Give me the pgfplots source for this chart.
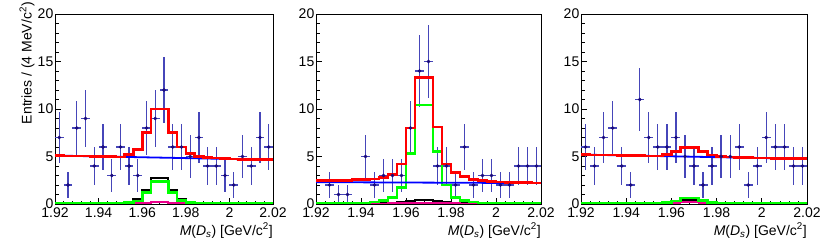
\documentclass[border=0pt]{standalone}
\usepackage{pgfplots}
\pgfplotsset{compat=1.18}
\usepackage{pgfplotstable}
\usepackage{fontspec}
\setmainfont{Liberation Sans}
\definecolor{navy}{RGB}{25,10,125}
\definecolor{errblue}{RGB}{70,70,185}
\newcommand{\lab}{\fontsize{14bp}{16bp}\selectfont}

% data: bin centre, entries, sqrt(entries)
\pgfplotstableread{
x y e
1.922 7 2.646
1.926 2 1.414
1.930 8 2.828
1.934 9 3.000
1.938 4 2.000
1.942 6 2.449
1.946 3 1.732
1.950 6 2.449
1.954 4 2.000
1.958 3 1.732
1.962 8 2.828
1.966 9 3.000
1.970 12 3.464
1.974 6 2.449
1.978 6 2.449
1.982 5 2.236
1.986 7 2.646
1.990 4 2.000
1.994 4 2.000
1.998 3 1.732
2.002 2 1.414
2.006 5 2.236
2.010 4 2.000
2.014 7 2.646
2.018 6 2.449
}\dataA
\pgfplotstableread{
x y e
1.926 2 1.414
1.930 1 1.000
1.934 1 1.000
1.942 5 2.236
1.946 2 1.414
1.950 3 1.732
1.954 3 1.732
1.958 3 1.732
1.962 8 2.828
1.966 14 3.742
1.970 15 3.873
1.974 4 2.000
1.978 4 2.000
1.982 2 1.414
1.986 6 2.449
1.990 2 1.414
1.994 3 1.732
1.998 3 1.732
2.002 2 1.414
2.006 2 1.414
2.010 4 2.000
2.014 4 2.000
2.018 4 2.000
}\dataB
\pgfplotstableread{
x y e
1.922 6 2.449
1.926 4 2.000
1.930 7 2.646
1.934 8 2.828
1.938 4 2.000
1.942 2 1.414
1.946 11 3.317
1.950 7 2.646
1.954 6 2.449
1.958 6 2.449
1.962 7 2.646
1.966 5 2.236
1.970 4 2.000
1.974 2 1.414
1.978 4 2.000
1.982 5 2.236
1.986 5 2.236
1.990 6 2.449
1.994 2 1.414
1.998 4 2.000
2.002 7 2.646
2.006 6 2.449
2.010 6 2.449
2.014 4 2.000
2.018 4 2.000
}\dataC

% histograms: left bin edge, red total, green, black, magenta
\pgfplotstableread{
x r g k m
1.920 5.09 0.1 0 0
1.924 5.07 0.1 0 0
1.928 5.055 0.1 0 0
1.932 5.04 0.1 0 0
1.936 5.02 0.1 0 0
1.940 5.00 0.1 0 0
1.944 4.98 0.1 0 0
1.948 4.965 0.1 0.05 0.1
1.952 5.2 0.15 0.15 0.12
1.956 5.75 0.3 0.5 0.12
1.960 7.5 1.23 1.5 0.15
1.964 10.0 2.35 2.75 0.18
1.968 10.0 2.35 2.75 0.18
1.972 7.5 1.23 1.5 0.15
1.976 6.0 0.35 0.55 0.12
1.980 5.3 0.15 0.2 0.12
1.984 5.0 0.12 0.1 0.1
1.988 4.88 0.1 0.05 0.08
1.992 4.84 0.1 0 0
1.996 4.80 0.1 0 0
2.000 4.74 0.1 0 0
2.004 4.71 0.1 0 0
2.008 4.695 0.1 0 0
2.012 4.677 0.1 0 0
2.016 4.66 0.1 0 0
2.020 4.66 0.1 0 0
}\histA
\pgfplotstableread{
x r g k m
1.920 2.5 0.1 0 0
1.924 2.5 0.1 0 0
1.928 2.5 0.1 0 0
1.932 2.5 0.1 0 0
1.936 2.55 0.1 0 0
1.940 2.6 0.12 0 0
1.944 2.65 0.2 0.05 0
1.948 2.8 0.35 0.1 0.05
1.952 3.1 0.7 0.15 0.08
1.956 4.2 1.75 0.2 0.1
1.960 8.0 5.3 0.3 0.12
1.964 13.3 10.4 0.4 0.12
1.968 13.3 10.4 0.4 0.12
1.972 8.1 5.5 0.3 0.12
1.976 4.2 2.0 0.2 0.1
1.980 3.3 0.7 0.15 0.08
1.984 2.9 0.35 0.1 0.05
1.988 2.6 0.2 0.05 0
1.992 2.45 0.12 0 0
1.996 2.35 0.1 0 0
2.000 2.3 0.1 0 0
2.004 2.28 0.1 0 0
2.008 2.26 0.1 0 0
2.012 2.24 0.1 0 0
2.016 2.22 0.1 0 0
2.020 2.22 0.1 0 0
}\histB
\pgfplotstableread{
x r g k m
1.920 5.19 0.1 0 0
1.924 5.17 0.1 0 0
1.928 5.155 0.1 0 0
1.932 5.14 0.1 0 0
1.936 5.12 0.1 0 0
1.940 5.10 0.1 0 0
1.944 5.08 0.1 0 0
1.948 5.065 0.1 0 0
1.952 5.05 0.1 0.05 0.05
1.956 5.2 0.15 0.1 0.08
1.960 5.5 0.3 0.2 0.15
1.964 5.96 0.65 0.4 0.18
1.968 5.96 0.65 0.4 0.18
1.972 5.5 0.35 0.25 0.15
1.976 5.15 0.15 0.1 0.08
1.980 5.0 0.1 0.05 0.05
1.984 4.93 0.1 0 0
1.988 4.885 0.1 0 0
1.992 4.87 0.1 0 0
1.996 4.85 0.1 0 0
2.000 4.83 0.1 0 0
2.004 4.81 0.1 0 0
2.008 4.795 0.1 0 0
2.012 4.78 0.1 0 0
2.016 4.76 0.1 0 0
2.020 4.76 0.1 0 0
}\histC

\pgfplotsset{
  panel/.style={
    scale only axis, height=190bp,
    xmin=1.92, xmax=2.02, ymin=0, ymax=20,
    xtick={1.92,1.94,1.96,1.98,2.00,2.02},
    xticklabels={1.92,1.94,1.96,1.98,2,2.02},
    ytick={0,5,10,15,20},
    yticklabels={0,5,10,15,20},
    minor x tick num=4, minor y tick num=4,
    xtick pos=bottom, ytick pos=left,
    tick align=inside,
    major tick length=6bp, minor tick length=3.5bp,
    tick style={black, line width=0.7bp},
    axis line style={line width=0.8bp},
    ticklabel style={font=\lab},
    yticklabel style={inner xsep=1.5bp},
    xticklabel style={inner ysep=4bp},
    anchor=south west,
  },
  dat/.style={only marks, mark=*, mark size=1.6bp, color=navy,
    error bars/.cd, x dir=both, x fixed=0.002, y dir=both, y explicit,
    error mark=none, error bar style={line width=1.3bp, color=errblue}},
  hist/.style={const plot mark left, no marks},
}

\newcommand{\panel}[3]{%
  \addplot[dat] table[x=x, y=y, y error=e] {#1};
  \addplot[hist, black, line width=2bp] table[x=x, y=k] {#2};
  \addplot[hist, magenta, line width=2bp] table[x=x, y=m] {#2};
  \addplot[hist, green, line width=2.6bp] table[x=x, y=g] {#2};
  \addplot[blue, line width=1.8bp, no marks] coordinates {#3};
  \addplot[hist, red, line width=2.6bp] table[x=x, y=r] {#2};
}

\begin{document}
\begin{tikzpicture}
\useasboundingbox (0bp,0bp) rectangle (830bp,243bp);

\begin{axis}[panel, at={(55bp,39bp)}, width=218bp]
\panel{\dataA}{\histA}{(1.92,5.1) (2.02,4.65)}
\end{axis}

\begin{axis}[panel, at={(316bp,39bp)}, width=225bp]
\panel{\dataB}{\histB}{(1.92,2.3) (2.02,2.2)}
\end{axis}

\begin{axis}[panel, at={(581bp,39bp)}, width=226bp]
\panel{\dataC}{\histC}{(1.92,5.2) (2.02,4.75)}
\end{axis}

\node[rotate=90, anchor=base east, inner sep=0pt, font=\lab] at (31.5bp,241bp)
  {Entries / (4 MeV/c\textsuperscript{2})};
\node[anchor=base east, inner sep=0pt, font=\lab] at (273bp,8bp)
  {\textit{M}(\textit{D}\textsubscript{\textit{s}}) [GeV/c\textsuperscript{2}]};
\node[anchor=base east, inner sep=0pt, font=\lab] at (541bp,8bp)
  {\textit{M}(\textit{D}\textsubscript{\textit{s}}) [GeV/c\textsuperscript{2}]};
\node[anchor=base east, inner sep=0pt, font=\lab] at (807bp,8bp)
  {\textit{M}(\textit{D}\textsubscript{\textit{s}}) [GeV/c\textsuperscript{2}]};
\end{tikzpicture}
\end{document}
